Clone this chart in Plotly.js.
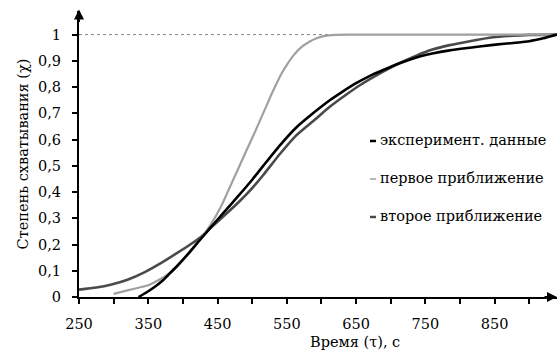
<!DOCTYPE html>
<html>
<head>
<meta charset="utf-8">
<script src="https://cdn.plot.ly/plotly-3.0.1.min.js"></script>
<style>html,body{margin:0;padding:0;background:#fff;}#chart{width:558px;height:350px;}</style>
</head>
<body>
<div id="chart"></div>
<script>
// Experimental data (black)
var expX = [336, 350, 360, 370, 380, 393, 410, 426, 440, 460, 480, 500, 516, 540, 564, 590, 612, 630, 650, 670, 690, 710, 737, 760, 785, 814, 848, 880, 900, 920, 940];
var expY = [0, 0.022, 0.04, 0.061, 0.087, 0.122, 0.172, 0.222, 0.265, 0.325, 0.385, 0.447, 0.5, 0.578, 0.647, 0.705, 0.75, 0.782, 0.815, 0.843, 0.866, 0.888, 0.913, 0.928, 0.94, 0.95, 0.961, 0.969, 0.975, 0.986, 1.0];
// First approximation (light gray)
var firstX = [300, 320, 340, 350, 365, 380, 393, 410, 426, 441, 455, 468, 480, 492, 505, 518, 530, 543, 550, 560, 571, 582, 593, 605, 620, 640, 700, 800, 940];
var firstY = [0.012, 0.025, 0.038, 0.045, 0.065, 0.09, 0.121, 0.17, 0.223, 0.28, 0.345, 0.42, 0.49, 0.56, 0.635, 0.713, 0.785, 0.855, 0.885, 0.922, 0.952, 0.972, 0.986, 0.995, 0.999, 1, 1, 1, 1];
// Second approximation (dark gray)
var secondX = [250, 275, 297, 320, 345, 370, 393, 410, 426, 450, 480, 500, 516, 540, 564, 590, 612, 635, 656, 689, 710, 737, 760, 785, 814, 848, 870, 900, 940];
var secondY = [0.028, 0.036, 0.048, 0.066, 0.095, 0.132, 0.17, 0.199, 0.229, 0.287, 0.36, 0.415, 0.465, 0.545, 0.617, 0.675, 0.725, 0.77, 0.808, 0.859, 0.888, 0.92, 0.943, 0.96, 0.975, 0.99, 0.995, 0.999, 1.0];

var xTickVals = [250, 300, 350, 400, 450, 500, 550, 600, 650, 700, 750, 800, 850, 900];
var xTickText = ['250', '', '350', '', '450', '', '550', '', '650', '', '750', '', '850', ''];
var yTickVals = [0, 0.1, 0.2, 0.3, 0.4, 0.5, 0.6, 0.7, 0.8, 0.9, 1];
var yTickText = ['0', '0,1', '0,2', '0,3', '0,4', '0,5', '0,6', '0,7', '0,8', '0,9', '1'];

var legendLabels = ['эксперимент. данные', 'первое приближение', 'второе приближение'];
var xTitle = 'Время (τ), с';
var yTitle = 'Степень схватывания (χ)';

var FONT = 'DejaVu Serif';
var FS = 14.5;
var colors = ['#000000', '#a0a0a0', '#4a4a4a'];
var widths = [2.6, 2.2, 2.6];

var traces = [
  {x: secondX, y: secondY, mode: 'lines', line: {color: colors[2], width: widths[2], shape: 'spline', smoothing: 0.6}, showlegend: false, hoverinfo: 'skip'},
  {x: firstX, y: firstY, mode: 'lines', line: {color: colors[1], width: widths[1], shape: 'spline', smoothing: 0.6}, showlegend: false, hoverinfo: 'skip'},
  {x: expX, y: expY, mode: 'lines', line: {color: colors[0], width: widths[0], shape: 'spline', smoothing: 0.6}, showlegend: false, hoverinfo: 'skip'}
];

var L = 79, R = 1, T = 11, B = 53;
var plotW = 558 - L - R, plotH = 350 - T - B;
function px2paperX(px) { return (px - L) / plotW; }
function py2paperY(py) { return (350 - B - py) / plotH; }

var annotations = [];
var shapes = [
  {type: 'line', xref: 'paper', yref: 'y', x0: 0, x1: 1, y0: 1, y1: 1, line: {color: '#808080', width: 1, dash: 'dot'}, layer: 'below'}
];
var legendY = [140, 178, 216];
for (var i = 0; i < legendLabels.length; i++) {
  shapes.push({type: 'line', xref: 'paper', yref: 'paper',
    x0: px2paperX(370), x1: px2paperX(376), y0: py2paperY(legendY[i] + 1), y1: py2paperY(legendY[i] + 1),
    line: {color: colors[i], width: i === 1 ? 1.5 : 2.5}});
  annotations.push({xref: 'paper', yref: 'paper', x: px2paperX(378), y: py2paperY(legendY[i]),
    xanchor: 'left', yanchor: 'middle', showarrow: false, text: legendLabels[i],
    font: {family: FONT, size: FS, color: '#000'}});
}
annotations.push({xref: 'paper', yref: 'paper', x: px2paperX(355), y: py2paperY(342), xanchor: 'center', yanchor: 'middle',
  showarrow: false, text: xTitle, font: {family: FONT, size: FS, color: '#000'}});
annotations.push({xref: 'paper', yref: 'paper', x: 0, y: 1.005, ax: 0, ay: 14, showarrow: true, arrowhead: 2, arrowsize: 1, arrowwidth: 2, arrowcolor: '#000', text: ''});
annotations.push({xref: 'paper', yref: 'paper', x: 1.0, y: 0, ax: -14, ay: 0, showarrow: true, arrowhead: 2, arrowsize: 1, arrowwidth: 2, arrowcolor: '#000', text: ''});

var layout = {
  width: 558, height: 350,
  margin: {l: L, r: R, t: T, b: B, pad: 0},
  paper_bgcolor: '#fff', plot_bgcolor: '#fff',
  font: {family: FONT, size: FS, color: '#000'},
  showlegend: false,
  xaxis: {
    range: [250, 940], tickvals: xTickVals, ticktext: xTickText,
    showgrid: false, zeroline: false, showline: true, linecolor: '#000', linewidth: 2,
    ticks: 'outside', ticklen: 5, tickwidth: 2, tickcolor: '#000', ticklabelstandoff: 8,
    tickfont: {family: FONT, size: FS, color: '#000'}, fixedrange: true
  },
  yaxis: {
    range: [0, 1.09], tickvals: yTickVals, ticktext: yTickText,
    showgrid: false, zeroline: false, showline: true, linecolor: '#000', linewidth: 2,
    ticks: 'outside', ticklen: 5, tickwidth: 2, tickcolor: '#000', ticklabelstandoff: 8,
    tickfont: {family: FONT, size: FS, color: '#000'},
    title: {text: yTitle, font: {family: FONT, size: FS, color: '#000'}, standoff: 6}, fixedrange: true
  },
  shapes: shapes,
  annotations: annotations
};

Plotly.newPlot('chart', traces, layout, {displayModeBar: false, staticPlot: true});
</script>
</body>
</html>
